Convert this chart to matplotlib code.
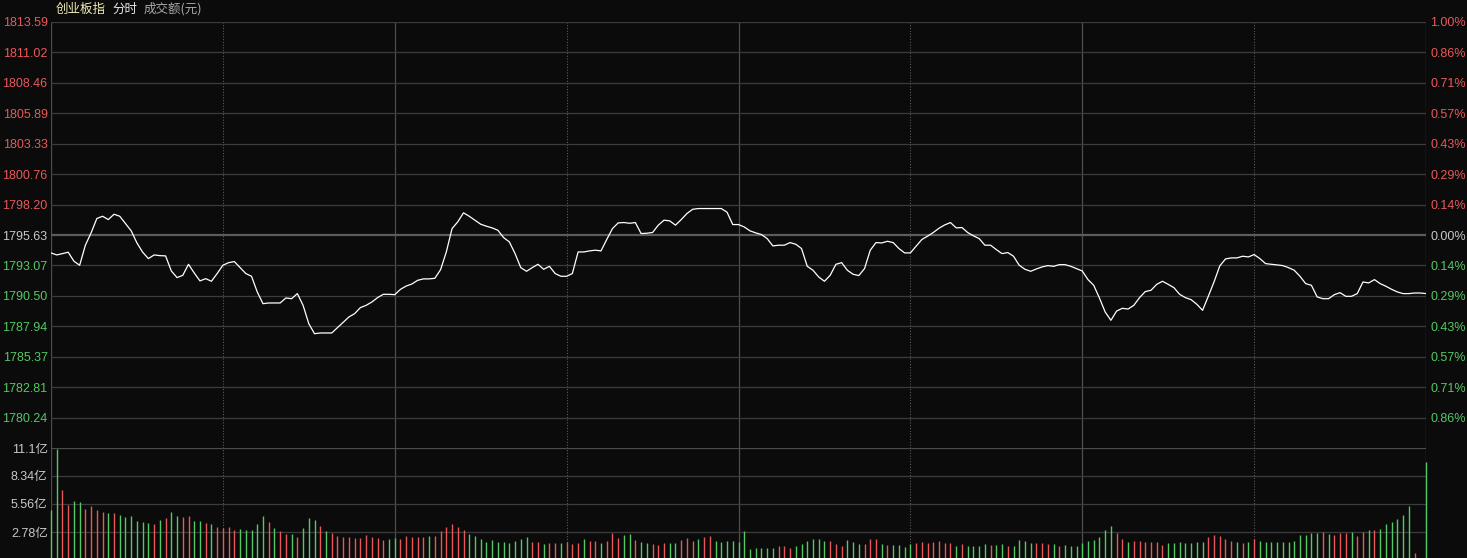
import numpy as np
import matplotlib
matplotlib.use("Agg")
import matplotlib.pyplot as plt

plt.rcParams['font.family'] = ['Liberation Sans', 'Noto Sans CJK SC', 'DejaVu Sans']

# previous close of the index, one price per minute (09:30 .. 11:30, 13:01 .. 15:00)
prev_close = 1795.63
price = [
    1794.12, 1793.95, 1794.06, 1794.18, 1793.42, 1793.08, 1794.77, 1795.81, 1797.02, 1797.21,
    1796.93, 1797.38, 1797.21, 1796.60, 1795.98, 1794.96, 1794.18, 1793.64, 1793.95, 1793.89,
    1793.87, 1792.60, 1792.04, 1792.23, 1793.16, 1792.43, 1791.76, 1791.95, 1791.73, 1792.38,
    1793.08, 1793.30, 1793.39, 1792.88, 1792.38, 1792.15, 1790.83, 1789.84, 1789.90, 1789.90,
    1789.90, 1790.32, 1790.26, 1790.69, 1789.70, 1788.15, 1787.31, 1787.37, 1787.37, 1787.37,
    1787.82, 1788.27, 1788.72, 1789.00, 1789.51, 1789.70, 1789.98, 1790.35, 1790.63, 1790.63,
    1790.60, 1791.05, 1791.33, 1791.50, 1791.81, 1791.93, 1791.93, 1791.98, 1792.71, 1794.20,
    1796.17, 1796.74, 1797.50, 1797.21, 1796.88, 1796.54, 1796.37, 1796.23, 1796.03, 1795.41,
    1795.05, 1794.06, 1792.88, 1792.57, 1792.88, 1793.16, 1792.74, 1792.99, 1792.38, 1792.15,
    1792.15, 1792.38, 1794.20, 1794.20, 1794.29, 1794.35, 1794.29, 1795.25, 1796.17, 1796.65,
    1796.68, 1796.62, 1796.68, 1795.75, 1795.78, 1795.84, 1796.46, 1796.88, 1796.82, 1796.46,
    1796.93, 1797.44, 1797.80, 1797.86, 1797.86, 1797.86, 1797.86, 1797.86, 1797.55, 1796.51,
    1796.51, 1796.31, 1795.98, 1795.81, 1795.67, 1795.33, 1794.71, 1794.77, 1794.77, 1794.99,
    1794.85, 1794.49, 1792.99, 1792.66, 1792.09, 1791.73, 1792.23, 1793.16, 1793.30, 1792.66,
    1792.32, 1792.21, 1792.80, 1794.35, 1794.99, 1794.96, 1795.10, 1794.99, 1794.49, 1794.12,
    1794.12, 1794.68, 1795.25, 1795.53, 1795.84, 1796.20, 1796.48, 1796.68, 1796.23, 1796.26,
    1795.84, 1795.56, 1795.33, 1794.77, 1794.77, 1794.40, 1794.06, 1794.15, 1793.84, 1793.08,
    1792.74, 1792.57, 1792.77, 1792.94, 1793.05, 1792.99, 1793.13, 1793.13, 1792.99, 1792.80,
    1792.60, 1791.87, 1791.39, 1790.32, 1789.14, 1788.44, 1789.22, 1789.45, 1789.39, 1789.70,
    1790.35, 1790.86, 1790.97, 1791.47, 1791.73, 1791.47, 1791.19, 1790.63, 1790.35, 1790.18,
    1789.79, 1789.28, 1790.46, 1791.67, 1793.02, 1793.61, 1793.70, 1793.70, 1793.84, 1793.78,
    1793.98, 1793.64, 1793.22, 1793.16, 1793.11, 1793.05, 1792.88, 1792.66, 1792.15, 1791.53,
    1791.39, 1790.41, 1790.26, 1790.26, 1790.60, 1790.77, 1790.46, 1790.46, 1790.69, 1791.67,
    1791.59, 1791.87, 1791.53, 1791.31, 1791.05, 1790.83, 1790.69, 1790.69, 1790.74, 1790.74,
    1790.69,
]

# turnover per minute, 亿元
volume = [
    4.96, 11.0, 6.94, 5.45, 5.85, 5.75, 5.05, 5.35, 4.96, 4.76,
    4.66, 4.66, 4.46, 4.26, 4.36, 3.86, 3.77, 3.67, 3.57, 3.96,
    4.16, 4.76, 4.36, 4.26, 4.36, 3.86, 3.86, 3.67, 3.57, 3.27,
    3.17, 3.27, 2.97, 3.07, 2.97, 2.97, 3.57, 4.36, 3.77, 3.17,
    2.87, 2.58, 2.58, 2.28, 3.17, 4.16, 3.96, 3.37, 2.87, 2.68,
    2.38, 2.28, 2.28, 2.18, 2.18, 2.48, 2.28, 2.18, 1.98, 2.08,
    2.18, 2.08, 2.38, 2.28, 2.28, 2.28, 2.38, 2.38, 2.87, 3.27,
    3.57, 3.27, 2.97, 2.58, 2.38, 2.08, 1.78, 1.98, 1.78, 1.78,
    1.68, 1.88, 2.08, 2.28, 1.78, 1.78, 1.59, 1.68, 1.68, 1.68,
    1.78, 1.59, 1.68, 2.08, 1.88, 1.88, 1.68, 1.88, 2.68, 2.18,
    2.48, 2.58, 1.98, 1.78, 1.68, 1.59, 1.49, 1.68, 1.68, 1.68,
    1.98, 2.18, 1.88, 2.08, 2.28, 2.38, 1.88, 1.78, 1.88, 1.88,
    1.78, 2.87, 1.09, 1.19, 1.19, 1.19, 1.19, 1.39, 1.39, 1.19,
    1.39, 1.59, 1.88, 2.08, 2.08, 1.88, 1.88, 1.59, 1.39, 1.98,
    1.78, 1.59, 1.59, 2.08, 2.08, 1.59, 1.49, 1.49, 1.49, 1.29,
    1.59, 1.68, 1.78, 1.68, 1.78, 1.88, 1.68, 1.68, 1.39, 1.59,
    1.39, 1.39, 1.39, 1.59, 1.49, 1.49, 1.59, 1.39, 1.39, 1.98,
    1.88, 1.68, 1.68, 1.68, 1.59, 1.59, 1.39, 1.49, 1.39, 1.39,
    1.68, 1.88, 1.98, 2.28, 2.97, 3.37, 2.68, 2.08, 1.78, 1.88,
    1.88, 1.78, 1.78, 1.78, 1.49, 1.68, 1.68, 1.78, 1.68, 1.68,
    1.78, 1.78, 2.28, 2.48, 2.38, 2.08, 1.88, 1.78, 1.68, 1.78,
    2.08, 1.88, 1.78, 1.78, 1.78, 1.78, 1.78, 1.88, 2.48, 2.48,
    2.68, 2.68, 2.77, 2.58, 2.48, 2.68, 2.68, 2.77, 2.38, 2.77,
    2.97, 2.97, 3.07, 3.57, 3.77, 4.06, 4.46, 5.35, 0.69, 0.0,
    9.74,
]

# minute direction of each bar: 'r' up, 'g' down (10 per chunk)
direction = (
    "ggrrggrrrr" "grggggggrg" "rggrrggrgr" "rrrgggggrg" "rrgrgggrgr"
    "rrrrrrrrrg" "grrrrrgrrr" "rrrggggggg" "ggggrrgrrg" "rrrgrrgrrr"
    "ggrggrrrgg" "rrrgrrgggg" "gggggggrrr" "ggggggrrrg" "ggrrrgrggg"
    "grrrrrrrgr" "ggggrggrgg" "ggrrrgrggg" "ggggggrrgr" "rrrrrggggg"
    "ggrrrrrgrg" "rggggggggg" "ggrgrrrgrr" "grggggggrg" "g"
)

price_ticks = [1813.59, 1811.02, 1808.46, 1805.89, 1803.33, 1800.76, 1798.20,
               1795.63, 1793.07, 1790.50, 1787.94, 1785.37, 1782.81, 1780.24]
pct_labels = ['1.00%', '0.86%', '0.71%', '0.57%', '0.43%', '0.29%', '0.14%',
              '0.00%', '0.14%', '0.29%', '0.43%', '0.57%', '0.71%', '0.86%']
vol_ticks = [11.1, 8.34, 5.56, 2.78]
vol_labels = ['11.1亿', '8.34亿', '5.56亿', '2.78亿']

BG = '#0b0b0b'
RED = '#e8585a'
GREEN = '#54c864'
NEUTRAL = '#c8c8c8'
GRID = '#3c3c3c'

W, H = 1467, 558
fig = plt.figure(figsize=(W / 100, H / 100), dpi=100, facecolor=BG)

def frac(x0, y0, x1, y1):
    return [x0 / W, 1 - y1 / H, (x1 - x0) / W, (y1 - y0) / H]

ax = fig.add_axes(frac(51, 22, 1426, 448))
axv = fig.add_axes(frac(51, 448, 1426, 560))

n = len(price)
x = np.arange(n)
span = prev_close * 0.01

for a in (ax, axv):
    a.set_facecolor(BG)
    a.set_xlim(0, n - 1)
    a.set_xticks([])
    a.set_yticks([])
    for s in a.spines.values():
        s.set_visible(False)
    for i in (0, 60, 120, 180, 240):
        a.axvline(i, color='#4e4e4e', lw=0.9, zorder=1)
    for i in (30, 90, 150, 210):
        a.axvline(i, color='#5a5a5a', lw=0.8, ls=(0, (1, 1.5)), zorder=1)

ax.set_ylim(prev_close - span, prev_close + span)
for p in price_ticks:
    if p == prev_close:
        ax.axhline(p, color='#5c5c5c', lw=1.6, zorder=1)
    else:
        ax.axhline(p, color=GRID, lw=0.9, zorder=1)

ax.plot(x, price, color='white', lw=0.9, zorder=3)

for p, lab in zip(price_ticks, pct_labels):
    c = RED if p > prev_close else (GREEN if p < prev_close else NEUTRAL)
    ax.text(-0.0025, p, f'{p:.2f}', transform=ax.get_yaxis_transform(),
            ha='right', va='center_baseline', color=c, fontsize=9)
    ax.text(1.003, p, lab, transform=ax.get_yaxis_transform(),
            ha='left', va='center_baseline', color=c, fontsize=9)

axv.set_ylim(0, 11.12)
axv.axhline(11.1, color='#4c4c4c', lw=1.6, zorder=1)
for v in vol_ticks[1:]:
    axv.axhline(v, color=GRID, lw=0.9, zorder=1)
bar_colors = [RED if d == 'r' else GREEN for d in direction]
axv.vlines(x, 0, volume, colors=bar_colors, lw=1.0, zorder=3, clip_on=False)
for v, lab in zip(vol_ticks, vol_labels):
    axv.text(-0.0025, v, lab, transform=axv.get_yaxis_transform(),
             ha='right', va='center_baseline', color=NEUTRAL, fontsize=9)

fig.text(56 / W, 1 - 9 / H, '创业板指', color='#f2eeb8', fontsize=9,
         ha='left', va='center', family=['Noto Sans CJK SC', 'DejaVu Sans'])
fig.text(112 / W, 1 - 9 / H, '分时', color='#e6e6e6', fontsize=9,
         ha='left', va='center', family=['Noto Sans CJK SC', 'DejaVu Sans'])
fig.text(144 / W, 1 - 9 / H, '成交额(元)', color='#a8a8a8', fontsize=9,
         ha='left', va='center', family=['Noto Sans CJK SC', 'DejaVu Sans'])

fig.savefig('out.png', dpi=100, facecolor=BG)
